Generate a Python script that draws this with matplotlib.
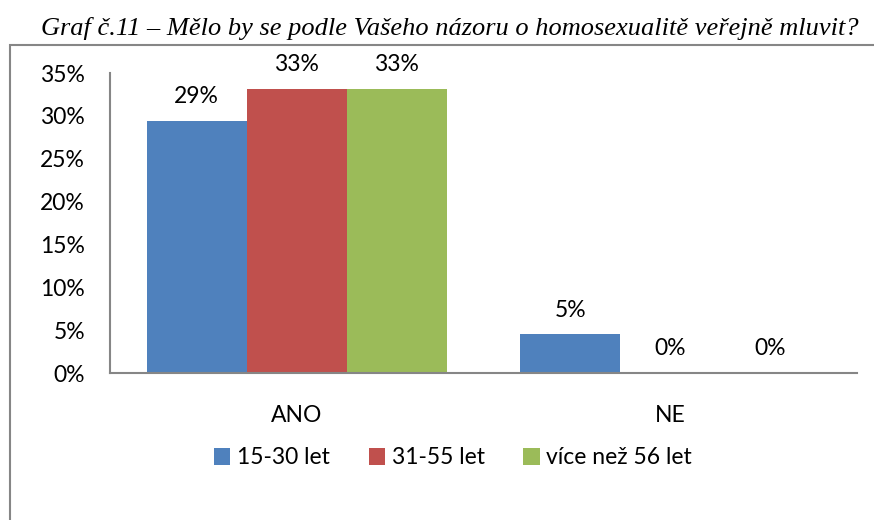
import matplotlib.pyplot as plt
import numpy as np
from matplotlib.patches import Rectangle
from matplotlib.ticker import PercentFormatter

categories = ["ANO", "NE"]
series_names = ["15-30 let", "31-55 let", "více než 56 let"]
values = {
    "15-30 let": [0.294, 0.045],
    "31-55 let": [0.331, 0.0],
    "více než 56 let": [0.331, 0.0],
}
labels = {
    "15-30 let": ["29%", "5%"],
    "31-55 let": ["33%", "0%"],
    "více než 56 let": ["33%", "0%"],
}
colors = ["#4F81BD", "#C0504D", "#9BBB59"]
title = "Graf č.11 – Mělo by se podle Vašeho názoru o homosexualitě veřejně mluvit?"

plt.rcParams["font.family"] = ["Lato", "DejaVu Sans"]
fs = 16.5

fig = plt.figure(figsize=(8.74, 5.2), dpi=100)
W, H = 874, 520
ax = fig.add_axes([110 / W, 1 - 373 / H, 747 / W, 300 / H])

# chart frame (left and top edges visible)
fig.patches.append(Rectangle((10 / W, -0.1), 1.2, 1 - 45 / H + 0.1,
                             transform=fig.transFigure, fill=False,
                             edgecolor="#868686", linewidth=1.5))

x = np.arange(len(categories))
width = 0.268
for i, (name, c) in enumerate(zip(series_names, colors)):
    pos = x + (i - 1) * width
    ax.bar(pos, values[name], width, color=c, label=name)
    for px, v, lab in zip(pos, values[name], labels[name]):
        ax.annotate(lab, (px, v), xytext=(0, 10), textcoords="offset points",
                    ha="center", va="bottom", fontsize=fs)

ax.set_xlim(-0.5, 1.5)
ax.set_ylim(0, 0.35)
ax.set_yticks(np.arange(0, 0.351, 0.05))
ax.yaxis.set_major_formatter(PercentFormatter(1.0, decimals=0))
ax.set_xticks(x)
ax.set_xticklabels(categories)
ax.tick_params(axis="both", length=0, labelsize=fs)
ax.tick_params(axis="x", pad=23)
ax.tick_params(axis="y", pad=18)
for s in ["top", "right"]:
    ax.spines[s].set_visible(False)
for s in ["left", "bottom"]:
    ax.spines[s].set_color("#868686")
    ax.spines[s].set_linewidth(1.5)

fig.legend(loc="center", bbox_to_anchor=(453 / W, 1 - 458 / H), ncol=3,
           frameon=False, fontsize=fs, handlelength=0.7, handleheight=0.7,
           handletextpad=0.3, columnspacing=1.7)

fig.text(450 / W, 1 - 28 / H, title, ha="center", va="center",
         family="Liberation Serif", style="italic", fontsize=19)

fig.savefig("out.png", dpi=100)
